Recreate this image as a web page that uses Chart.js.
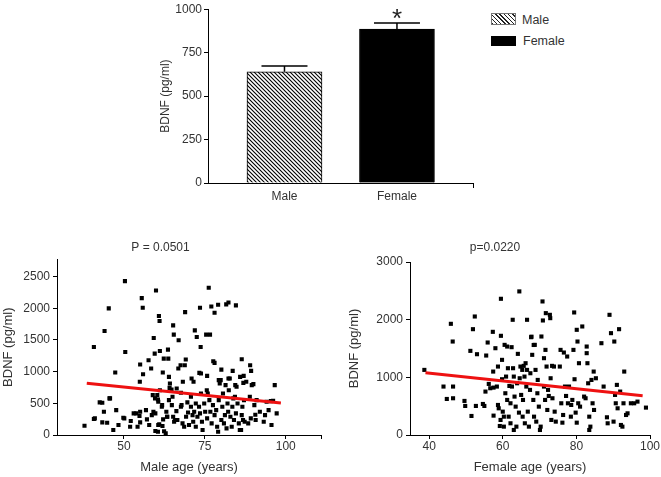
<!DOCTYPE html>
<html><head><meta charset="utf-8">
<script src="https://cdn.jsdelivr.net/npm/chart.js@4.4.0/dist/chart.umd.min.js"></script>
<style>
html,body{margin:0;padding:0;background:#fff;width:661px;height:477px;overflow:hidden;position:relative;font-family:"Liberation Sans",Arial,sans-serif;}
canvas{position:absolute;}
.lt{position:absolute;font-size:12.5px;color:#333;line-height:15px;white-space:nowrap;}
.sw{position:absolute;box-sizing:border-box;}
</style></head><body>
<canvas id="c1" width="335" height="205" style="left:150px;top:0px;width:335px;height:205px"></canvas>
<canvas id="c2" width="330" height="242" style="left:0px;top:235px;width:330px;height:242px"></canvas>
<canvas id="c3" width="321" height="242" style="left:340px;top:235px;width:321px;height:242px"></canvas>
<div class="sw" style="left:491px;top:13px;width:25px;height:12px;border:1px solid #777;background:repeating-linear-gradient(45deg,#222 0,#222 1px,#fff 1px,#fff 3px);"></div>
<div class="lt" style="left:522px;top:13px;">Male</div>
<div class="sw" style="left:491px;top:36px;width:25px;height:10px;background:#000;"></div>
<div class="lt" style="left:523px;top:34px;">Female</div>
<script>
// ---------- data ----------
const barCats = ['Male', 'Female'];
const barMeans = [640, 886];
const barSEM = [33, 35];
const barYTicks = [0, 250, 500, 750, 1000];

const maleAge = [37.8,40.7,50.3,59.9,55.5,55.8,45.3,60.8,61.0,44.0,59.2,65.2,65.4,66.9,68.9,73.5,76.2,77.0,78.0,79.1,82.3,84.6,81.6,71.9,72.5,75.4,76.6,73.7,50.4,59.5,61.1,63.6,62.3,63.7,69.1,57.6,55.0,58.4,55.9,47.3,62.0,67.5,68.8,77.6,78.0,80.1,83.6,86.4,89.0,89.3,63.9,73.3,73.8,75.7,85.9,87.0,71.5,68.2,54.9,66.8,70.9,79.3,82.3,84.4,86.9,89.5,75.6,67.8,95.4,90.6,93.2,
40.7,42.5,43.3,43.8,43.3,44.8,45.7,47.6,46.7,50.1,51.9,52.1,53.8,54.2,54.8,55.0,55.0,57.1,59.7,60.3,59.7,60.5,60.9,61.9,62.1,60.5,61.8,63.1,62.4,62.9,63.3,63.9,64.1,64.7,65.0,64.8,65.2,65.5,66.2,66.5,67.6,67.6,68.1,68.6,69.2,69.6,69.8,70.1,70.7,70.7,71.2,71.4,71.7,72.2,72.2,72.7,73.2,73.5,73.8,74.1,74.3,74.8,75.1,75.7,75.9,76.4,76.7,77.1,77.5,78.0,78.5,78.8,79.1,79.3,79.6,79.9,80.1,80.4,80.6,80.9,81.2,81.4,81.7,82.0,82.2,82.4,82.7,82.9,83.3,83.5,83.8,84.0,84.3,84.6,84.8,85.1,85.5,85.8,86.2,86.4,86.6,86.8,87.1,87.3,87.8,88.4,88.9,89.2,90.0,90.3,90.7,91.0,92.0,93.6,94.1,94.7,95.6,96.6,97.2,96.1,57.8,56.8,58.6,48.3,66.3,64.2,61.1,58.9,59.6,45.5,49.8,41.0,53.0,59.1,60.6,61.7,63.4,65.8,60.6];
const maleBDNF = [147,1389,2427,2280,2159,2007,1997,1876,1798,1640,1530,1729,1583,1494,1939,2007,2322,2028,1929,2055,2091,2044,2060,1651,1546,1583,1583,1389,1310,1284,1326,1347,1205,1205,1190,1179,1111,1048,959,985,985,1100,1100,1163,1137,1032,1011,1195,1100,1011,917,980,970,933,917,933,839,839,839,1048,891,865,891,786,823,786,707,472,535,320,210,
252,514,508,367,199,194,577,393,79,262,131,220,341,131,299,199,367,246,341,629,63,52,168,142,246,561,472,367,58,26,288,550,744,718,603,472,288,210,377,236,666,445,183,131,288,514,356,157,603,445,314,210,367,498,131,288,445,341,655,210,79,498,367,262,655,550,367,183,472,314,393,131,52,550,812,865,236,445,655,183,314,786,105,498,367,707,891,288,131,445,577,236,603,341,760,498,183,79,79,314,445,236,550,210,839,183,603,262,802,472,236,550,367,314,524,393,157,786,341,540,157,393,314,157,734,812,707,629,577,577,272,262,341,367,157,445,288,236,524];
const maleFitAge = [38.5, 98.5];
const maleFitBDNF = [818, 503];
const maleXTicks = [50, 75, 100];
const maleYTicks = [0, 500, 1000, 1500, 2000, 2500];

const femaleAge = [38.7,43.9,44.8,45.9,46.4,46.5,46.5,49.6,49.8,51.5,51.9,52.4,53.0,52.7,51.2,54.6,55.0,55.3,55.5,55.9,56.2,56.6,57.3,57.4,57.5,57.5,58.0,58.4,58.7,58.7,58.9,59.2,59.4,59.5,59.5,59.8,59.8,60.0,60.3,60.3,60.5,60.7,60.9,61.2,61.2,61.4,61.6,61.8,62.1,62.1,62.4,62.5,62.7,62.8,63.0,63.0,63.2,63.5,63.7,63.9,64.1,64.4,64.5,64.6,64.8,65.0,65.3,65.4,65.5,65.7,65.9,66.0,66.2,66.4,66.6,66.6,66.8,67.1,67.4,67.5,67.7,68.0,68.3,68.5,68.7,68.9,69.1,69.4,69.5,69.8,70.1,70.3,70.5,70.8,70.9,71.2,71.2,71.5,71.6,71.7,71.9,72.1,72.3,72.5,72.8,72.9,73.0,73.2,73.4,73.5,73.9,74.1,74.4,75.5,75.7,75.9,76.2,76.4,76.6,76.9,77.2,77.5,77.7,78.0,78.5,78.6,78.9,79.2,79.4,79.5,79.8,80.1,80.1,80.3,80.5,80.7,81.0,81.6,82.1,82.5,82.8,82.8,83.0,83.2,83.5,83.5,83.8,84.1,84.4,84.7,84.8,85.3,86.8,87.4,88.3,88.5,89.0,89.4,90.1,90.3,90.5,90.7,91.0,91.2,91.6,91.9,92.1,92.5,92.8,93.0,93.5,93.9,94.8,95.7,96.6,98.9,67.8,68.4];
const femaleBDNF = [1129,840,625,1928,1621,840,637,591,504,330,1835,2055,1401,504,1459,538,504,753,1378,1604,886,811,1789,1100,822,336,1505,840,1187,521,463,156,261,2362,1720,1303,967,405,318,145,1563,724,1013,1534,608,1158,318,851,550,203,1523,840,1998,1158,1013,87,666,492,145,897,1407,388,2490,984,1187,695,1129,318,608,1199,1013,203,1245,840,1998,1129,405,145,782,1071,1696,1390,608,318,1563,1129,232,724,955,492,87,145,1708,2316,1986,1332,840,608,1476,2113,1187,434,782,677,2084,2026,984,261,1199,637,1187,405,232,1187,1476,550,214,347,1430,840,677,1361,550,840,318,521,608,1476,2125,967,388,1824,214,1621,550,1245,492,1882,666,637,1534,1419,1245,897,318,87,145,955,550,1100,434,984,1592,840,307,203,2084,1766,232,1621,695,550,869,463,1835,753,174,145,550,1100,347,376,550,550,579,475,1705,1561];
const femaleFitAge = [39, 98];
const femaleFitBDNF = [1080, 681];
const femaleXTicks = [40, 60, 80, 100];
const femaleYTicks = [0, 1000, 2000, 3000];

// ---------- styling ----------
const FONT = '"Liberation Sans", Arial, sans-serif';
const TXT = '#333';
Chart.defaults.font.family = FONT;
Chart.defaults.color = TXT;

function hatchPattern(ctx) {
  const p = document.createElement('canvas');
  p.width = 4; p.height = 4;
  const g = p.getContext('2d');
  g.fillStyle = '#fff'; g.fillRect(0, 0, 4, 4);
  g.strokeStyle = '#000'; g.lineWidth = 1.1;
  g.beginPath();
  g.moveTo(-1, -1); g.lineTo(5, 5);
  g.moveTo(-1, 3); g.lineTo(1, 5);
  g.moveTo(3, -1); g.lineTo(5, 1);
  g.stroke();
  return ctx.createPattern(p, 'repeat');
}

const c1 = document.getElementById('c1');
const pat = hatchPattern(c1.getContext('2d'));

const errPlugin = {
  id: 'errbars',
  afterDatasetsDraw(chart) {
    const { ctx, scales: { x, y } } = chart;
    ctx.save();
    ctx.strokeStyle = '#000';
    ctx.lineWidth = 1.5;
    barMeans.forEach((m, i) => {
      const px = x.getPixelForValue(i);
      const y0 = y.getPixelForValue(m);
      const y1 = y.getPixelForValue(m + barSEM[i]);
      ctx.beginPath();
      ctx.moveTo(px, y0); ctx.lineTo(px, y1);
      ctx.moveTo(px - 23, y1); ctx.lineTo(px + 23, y1);
      ctx.stroke();
    });
    ctx.fillStyle = '#222';
    ctx.font = '26px ' + FONT;
    ctx.textAlign = 'center';
    ctx.textBaseline = 'alphabetic';
    ctx.fillText('*', x.getPixelForValue(1), y.getPixelForValue(barMeans[1] + barSEM[1]) + 4);
    ctx.restore();
  }
};

const XMAX1 = 1.676;
new Chart(c1, {
  type: 'bar',
  data: {
    datasets: [{
      data: barCats.map((c, i) => ({ x: i, y: barMeans[i] })),
      backgroundColor: [pat, '#000'],
      borderColor: '#000',
      borderWidth: 1,
      barThickness: 75
    }]
  },
  options: {
    responsive: false, animation: false, events: [],
    layout: { padding: { top: 8, right: 12, left: 0, bottom: 0 } },
    plugins: { legend: { display: false }, tooltip: { enabled: false } },
    scales: {
      x: {
        type: 'linear', min: -0.68, max: XMAX1, offset: false,
        afterBuildTicks: s => { s.ticks = [{ value: 0 }, { value: 1 }, { value: XMAX1 }]; },
        afterFit: s => { s.height = 22; },
        ticks: { callback: v => barCats[v] ?? '', font: { size: 12 }, color: TXT, padding: 1, autoSkip: false, maxRotation: 0 },
        grid: { offset: false, drawOnChartArea: false, tickLength: 5, color: c => c.index === 2 ? '#000' : 'rgba(0,0,0,0)' },
        border: { color: '#000', width: 1 }
      },
      y: {
        min: 0, max: 1000,
        afterBuildTicks: s => { s.ticks = barYTicks.map(v => ({ value: v })); },
        afterFit: s => { s.width = 58; },
        ticks: { callback: v => String(v), font: { size: 12 }, color: TXT, padding: 2 },
        grid: { drawOnChartArea: false, tickLength: 4, color: '#000' },
        border: { color: '#000', width: 1 },
        title: { display: true, text: 'BDNF (pg/ml)', font: { size: 12 }, color: TXT, padding: { top: 8, bottom: 0 } }
      }
    }
  },
  plugins: [errPlugin]
});

function scatterChart(id, ages, vals, fitA, fitB, o) {
  const pts = ages.map((a, i) => ({ x: a, y: vals[i] }));
  const xt = o.xTicks.slice();
  if (xt[xt.length - 1] !== o.xMax) xt.push(o.xMax);
  new Chart(document.getElementById(id), {
    type: 'scatter',
    data: {
      datasets: [
        {
          type: 'line',
          data: fitA.map((a, i) => ({ x: a, y: fitB[i] })),
          borderColor: '#ee1111', borderWidth: 3, pointRadius: 0, fill: false, tension: 0
        },
        {
          data: pts, pointStyle: 'rect', pointRadius: 2.9,
          backgroundColor: '#000', borderWidth: 0
        }
      ]
    },
    options: {
      responsive: false, animation: false, events: [],
      layout: { padding: { top: 0, right: o.padRight, left: 0, bottom: 0 } },
      plugins: {
        legend: { display: false }, tooltip: { enabled: false },
        title: { display: true, text: o.title, font: { size: 12, weight: 'normal' }, color: TXT, padding: { top: 5, bottom: o.titleBottom } }
      },
      scales: {
        x: {
          type: 'linear', min: o.xMin, max: o.xMax, offset: false,
          afterBuildTicks: s => { s.ticks = xt.map(v => ({ value: v })); },
          afterFit: s => { s.height = 42; },
          ticks: { callback: v => o.xTicks.includes(v) ? String(v) : '', font: { size: 12 }, color: TXT, padding: 0, autoSkip: false, maxRotation: 0 },
          grid: { drawOnChartArea: false, tickLength: 4, color: '#000' },
          border: { color: '#000', width: 1 },
          title: { display: true, text: o.xTitle, font: { size: 13 }, color: TXT, padding: { top: 0, bottom: 2 } }
        },
        y: {
          min: 0, max: o.yMax,
          afterBuildTicks: s => { s.ticks = o.yTicks.map(v => ({ value: v })); },
          afterFit: s => { s.width = o.yWidth; },
          ticks: { callback: v => String(v), font: { size: 12 }, color: TXT, padding: 3 },
          grid: { drawOnChartArea: false, tickLength: 4, color: '#000' },
          border: { color: '#000', width: 1 },
          title: { display: true, text: 'BDNF (pg/ml)', font: { size: 13 }, color: TXT, padding: { top: o.yTitlePad, bottom: 0 } }
        }
      }
    }
  });
}

scatterChart('c2', maleAge, maleBDNF, maleFitAge, maleFitBDNF, {
  xMin: 29.3, xMax: 110.9, xTicks: maleXTicks, yMax: 2770, yTicks: maleYTicks,
  title: 'P = 0.0501', xTitle: 'Male age (years)', yWidth: 57, padRight: 9, titleBottom: 5, yTitlePad: 1
});
scatterChart('c3', femaleAge, femaleBDNF, femaleFitAge, femaleFitBDNF, {
  xMin: 34.8, xMax: 100, xTicks: femaleXTicks, yMax: 3000, yTicks: femaleYTicks,
  title: 'p=0.0220', xTitle: 'Female age (years)', yWidth: 70, padRight: 11, titleBottom: 7.6, yTitlePad: 7
});
</script>
</body></html>
